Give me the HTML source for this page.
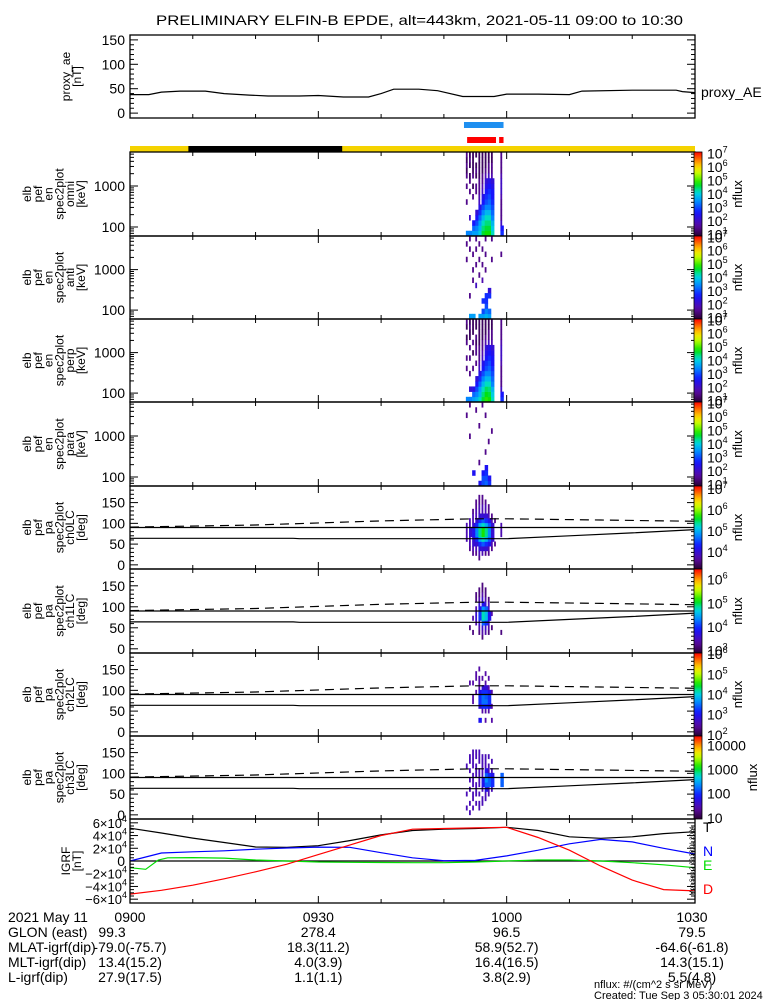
<!DOCTYPE html>
<html><head><meta charset="utf-8"><title>ELFIN-B EPDE</title>
<style>
html,body{margin:0;padding:0;background:#fff;}
svg{display:block;font-family:"Liberation Sans",sans-serif;}
</style></head>
<body>
<svg id="chart" width="775" height="1000" viewBox="0 0 775 1000" xmlns="http://www.w3.org/2000/svg">
<rect x="0" y="0" width="775" height="1000" fill="#fff"/>
<text x="156" y="25" font-size="14" textLength="527" lengthAdjust="spacingAndGlyphs">PRELIMINARY ELFIN-B EPDE, alt=443km, 2021-05-11 09:00 to 10:30</text>
<g id="layer"></g>
</svg>
<script>
// ---------- DATA ----------
const aeTimes = [0,3,5,8,12,15,19,22,27,30,34,38,40,42,46,49,53,58,60,65,70,72,80,87,88,90];
const aeValues = [38,38,43,45,45,40,37,35,35,36,33,33,40,49,49,46,34,34,39,39,38,45,47,47,44,42];

const igrfTimes = [0,5,10,15,20,25,30,35,40,45,50,55,60,65,70,75,80,85,90];
const igrfT = [51.5,44,36,29,22,21.6,24,32,41,48,50,51,53,48,38,35.7,38,43,46];
const igrfN = [0,12.5,14.5,16,18.5,20.5,21.8,21.5,13,5,0.5,1,8,17,27,34,30,20,11];
const igrfD = [-52,-46,-38,-28,-17,-5,10,25,40,50,51,52,53,37,17,-8,-30,-45,-47];
const igrfETimes = [0,2.5,4.5,6,10,15,20,25,30,35,40,45,50,55,60,65,70,75,80,85,90];
const igrfE = [-10.5,-13,1.5,5,5.3,4.5,1.6,0,-1.6,-2,-2.3,-2.6,-2.6,-1.5,0,1.6,1.6,0,-2.6,-6,-10.5];

const lcTimes = [0,26,27,60,70,80,90];
const lcValues = [64,64,63,63,70,77,85];
const alcTimes = [0,20,40,55,60,75,90];
const alcValues = [91,96,106,111,111,108,105];

const colTimes = [53.5,54.0,54.5,55.0,55.5,56.0,56.5,57.0,57.5,58.0,59.0];

const specOmni = [
[3.4,0,0,0,0,0,1.5,0,0,1.5,0,1.5,1.2,1.5,1.2,1.5],
[3.4,0,0,2,0,0,0,0,1.5,0,1.5,1.2,0,1.2,1.5,1.2],
[3.6,3.2,2.6,0,0,0,0,1.5,0,1.2,0,1.5,1.2,1.2,1.2,1.2],
[3.6,3.4,3,2.6,2.2,0,0,0,1.5,1.5,0,1.2,1.5,1.2,0,1.2],
[4,3.8,3.6,3.2,2.8,2.4,2,1.8,1.5,1.5,1.5,1.2,1.2,1.2,1.2,1.2],
[4.6,4.4,4.2,3.8,3.4,3,2.6,2.4,2,1.8,1.5,1.5,1.2,1.2,1.2,1.2],
[4.8,4.6,4.4,4.2,3.8,3.4,3,2.8,2.6,2.4,2.2,1.8,1.5,1.2,1.2,1.2],
[4.8,4.6,4.4,4.2,3.8,3.4,3.2,3,2.8,2.6,2.4,2,1.5,1.5,1.2,1.2],
[4.2,4,3.8,3.4,3.2,3,2.8,2.6,2.6,2.4,2.2,1.8,1.5,1.5,1.2,1.2],
[0,0,0,0,0,0,0,0,0,0,0,0,0,0,0,0],
[2.8,2.6,2,1.5,1.5,1.5,1.5,1.8,2,2,2,1.8,1.5,1.5,1.5,1.5]];
const specAnti = [
[0,0,0,0,0,0,0,0,0,0,0,1.5,0,0,1.5,0],
[3.6,0,0,0,1.5,0,0,0,0,0,0,0,0,1.5,0,1.5],
[3.6,0,0,0,0,0,0,1.5,0,1.5,0,0,1.5,0,0,0],
[0,0,0,0,0,0,2,0,0,0,1.5,0,0,1.5,0,1.5],
[3.6,0,0,0,0,0,0,0,1.5,0,0,1.5,0,0,1.5,0],
[3.6,3,0,2.8,0,0,0,1.8,0,0,1.5,0,0,1.5,0,0],
[3.8,3.4,3,2.8,2.8,0,0,0,0,1.5,0,0,1.5,0,0,1.5],
[3.6,3.2,0,0,2.8,2.2,0,0,0,0,0,0,0,0,0,0],
[0,0,0,0,0,0,0,0,0,0,0,1.5,0,0,0,1.5],
[0,0,0,0,0,0,0,0,0,0,0,0,0,0,0,0],
[0,0,0,0,0,0,0,0,0,0,0,0,1.5,0,0,0]];
const specPerp = [
[3.4,0,0,0,0,0,1.5,0,1.5,0,0,1.5,1.2,0,1.2,1.5],
[3.4,0,2.2,0,0,1.5,0,0,1.5,0,1.5,0,1.2,1.2,1.5,1.2],
[3.6,3.2,2.4,0,0,0,1.5,0,0,1.2,0,1.5,0,1.2,1.2,1.2],
[3.8,3.4,3,2.6,2.2,0,0,1.5,0,1.5,1.5,1.2,1.5,0,1.2,1.2],
[4.2,3.8,3.6,3.2,2.8,2.4,2,1.8,1.5,1.5,1.5,1.2,1.2,1.2,1.2,1.2],
[4.6,4.4,4.2,3.8,3.4,3,2.6,2.4,2,1.8,1.5,1.5,1.2,1.2,1.2,1.2],
[4.9,4.7,4.5,4.2,3.8,3.4,3,2.8,2.6,2.4,2.2,1.8,1.5,1.2,1.2,1.2],
[4.8,4.6,4.4,4.2,3.8,3.4,3.2,3,2.8,2.6,2.4,2,1.5,1.5,1.2,1.2],
[4.2,4,3.8,3.4,3.2,3,2.8,2.6,2.6,2.4,2.2,1.8,1.5,1.5,1.2,1.2],
[0,0,0,0,0,0,0,0,0,0,0,0,0,0,0,0],
[2.8,2.6,2,1.5,1.5,1.5,1.5,1.8,2,2,2,1.8,1.5,1.5,1.5,1.5]];
const specPara = [
[0,0,0,0,0,0,0,0,0,0,0,0,0,1.5,0,0],
[0,0,0,0,0,0,0,0,0,1.5,0,0,0,0,0,1.5],
[0,0,2.5,0,0,0,0,0,0,0,0,0,0,0,0,0],
[0,0,0,0,0,0,0,0,0,0,0,0,0,0,1.5,0],
[2.5,0,0,0,1.5,0,0,0,0,0,0,1.5,0,0,0,0],
[3,3,2.6,0,0,0,0,0,0,0,0,0,0,0,0,1.5],
[3.2,3,2.8,2.5,0,0,1.5,0,0,0,0,0,0,1.5,0,0],
[2.8,2.5,0,0,0,0,0,0,1.5,0,0,0,0,0,0,0],
[0,0,0,0,0,0,0,0,0,0,1.5,0,0,0,0,0],
[0,0,0,0,0,0,0,0,0,0,0,0,0,0,0,0],
[0,0,0,0,0,0,0,0,0,0,0,0,0,0,0,0]];
const paCh0 = [
[0,0,0,0,0,3.8,3.8,3.8,3.8,0,0,0,0,0,0,0],
[0,0,0,3.6,3.8,3.8,4,4,3.8,3.8,0,0,0,0,0,0],
[0,0,3.6,3.8,4,4,4.2,4.2,4,3.8,3.8,3.6,0,0,0,0],
[0,0,3.6,3.8,4,4.4,4.8,4.8,4.4,4,3.8,3.8,3.6,3.6,0,0],
[0,3.6,3.8,4,4.4,5,5.4,5.4,5,4.4,4,3.8,3.8,3.6,3.6,0],
[0,0,3.8,4,4.6,5.3,5.7,5.7,5.3,4.6,4,3.8,3.8,3.6,3.6,0],
[0,0,3.6,4,4.4,5,5.4,5.4,5,4.4,4,3.8,3.8,3.6,0,0],
[0,0,3.6,3.8,4.2,4.6,4.8,4.8,4.6,4.2,3.8,3.6,3.6,0,0,0],
[0,0,0,3.6,3.8,4,4,4,4,3.8,3.6,0,0,0,0,0],
[0,0,0,0,3.6,0,0,0,0,3.6,0,0,0,0,0,0],
[0,0,0,0,0,0,3.8,3.8,3.8,0,0,0,0,0,0,0]];
const paCh1 = [
[0,0,0,0,0,0,0,0,0,0,0,0,0,0,0,0],
[0,0,0,0,3.2,0,0,0,0,0,0,0,0,0,0,0],
[0,0,0,3.2,0,0,3.4,0,0,0,0,0,0,0,0,0],
[0,0,0,0,0,3.4,3.6,3.6,3.4,0,3.2,3.2,0,0,0,0],
[0,0,0,3.2,3.4,3.6,4,4,3.8,3.6,3.4,3.2,3.2,0,0,0],
[0,0,3.2,3.4,3.6,4.2,4.8,4.8,4.4,3.8,3.6,3.4,3.2,3.2,0,0],
[0,0,0,3.4,3.6,4,4.6,4.6,4.2,3.6,3.4,3.2,3.2,0,0,0],
[0,0,0,3.2,3.4,3.6,3.8,3.8,3.6,3.4,3.2,0,0,0,0,0],
[0,0,0,0,3.2,0,0,3.4,0,0,0,0,0,0,0,0],
[0,0,0,0,0,0,0,0,0,0,0,0,0,0,0,0],
[0,0,0,3.2,0,0,0,0,0,0,0,0,0,0,0,0]];
const paCh2 = [
[0,0,0,0,0,0,0,0,0,0,0,0,0,0,0,0],
[0,0,0,0,0,0,0,0,0,0,2.5,0,0,0,0,0],
[0,0,0,0,0,0,2.5,2.5,0,0,2.5,0,0,0,0,0],
[0,0,0,0,0,0,0,0,2.5,0,0,2.5,2.5,0,0,0],
[0,0,3,0,0,2.8,3.2,3.2,3,2.5,2.5,2.5,0,2.5,0,0],
[0,0,0,0,2.5,3.2,3.5,3.5,3.2,2.8,0,2.5,0,0,0,0],
[0,0,2.5,0,2.5,3.2,3.5,3.4,3.2,2.8,2.5,0,2.5,0,0,0],
[0,0,0,0,2.5,3,3.2,3.2,3,2.5,0,2.5,0,0,0,0],
[0,0,2.5,0,0,2.5,0,0,2.5,0,0,0,0,0,0,0],
[0,0,0,0,0,0,0,0,0,0,0,0,0,0,0,0],
[0,0,0,0,0,0,0,0,0,0,0,0,0,0,0,0]];
const paCh3 = [
[0,1.5,0,0,1.5,0,0,0,0,0,1.5,0,0,0,0,0],
[1.5,0,1.5,0,0,1.5,0,1.5,0,1.5,0,1.5,1.5,0,0,0],
[0,1.5,0,1.5,1.5,0,1.5,1.5,1.5,0,1.5,1.5,1.5,1.5,0,0],
[0,0,1.5,0,1.5,1.5,1.5,0,1.5,1.5,1.5,0,1.5,1.5,0,0],
[0,1.5,1.5,0,1.5,0,1.5,1.5,1.5,1.5,0,1.5,1.5,1.5,0,0],
[0,0,1.5,1.5,0,1.5,1.8,1.8,1.5,1.5,1.5,1.5,1.5,0,0,0],
[0,0,0,1.5,1.5,1.8,2.2,2.4,2.2,1.8,1.5,1.5,1.5,0,0,0],
[0,0,0,0,1.5,1.5,2.2,2.2,2,1.5,1.5,0,1.5,0,0,0],
[0,0,0,0,0,1.5,2,2,1.8,1.5,0,1.5,0,0,0,0],
[0,0,0,0,0,0,0,0,0,0,0,0,0,0,0,0],
[0,0,0,0,0,0,2.2,2.2,2.2,0,0,0,0,0,0,0]];

const timeLabels = ["0900","0930","1000","1030"];
const glonVals = ["99.3","278.4","96.5","79.5"];
const mlatVals = ["-79.0(-75.7)","18.3(11.2)","58.9(52.7)","-64.6(-61.8)"];
const mltVals = ["13.4(15.2)","4.0(3.9)","16.4(16.5)","14.3(15.1)"];
const lVals = ["27.9(17.5)","1.1(1.1)","3.8(2.9)","5.5(4.8)"];

// ---------- HELPERS ----------
const NS = "http://www.w3.org/2000/svg";
const layer = document.getElementById('layer');
const X0 = 130, X1 = 695, TMAX = 90;
function X(t){ return X0 + t*(X1-X0)/TMAX; }
function mk(tag, attrs, parent){
  const e = document.createElementNS(NS, tag);
  for (const k in attrs) e.setAttribute(k, attrs[k]);
  (parent||layer).appendChild(e); return e;
}
function txt(s, x, y, size, anchor, parent, fill){
  const t = mk('text', {x:x, y:y, 'font-size':size, 'text-anchor':anchor||'start', fill:fill||'#000'}, parent);
  t.textContent = s; return t;
}
const stops = [[0,[40,0,50]],[0.12,[90,10,160]],[0.28,[20,20,255]],[0.42,[0,150,255]],[0.52,[0,220,220]],[0.62,[0,225,0]],[0.74,[190,255,0]],[0.82,[255,225,0]],[0.9,[255,130,0]],[1,[255,0,0]]];
function cmap(f){
  f = Math.max(0, Math.min(1, f));
  for (let i=1;i<stops.length;i++){
    if (f <= stops[i][0]){
      const a=stops[i-1], b=stops[i], u=(f-a[0])/(b[0]-a[0]);
      const c=a[1].map((v,j)=>Math.round(v+(b[1][j]-v)*u));
      return 'rgb('+c.join(',')+')';
    }
  }
  return 'rgb(255,0,0)';
}
const defs = mk('defs', {});
const grad = mk('linearGradient', {id:'cbar', x1:0, y1:1, x2:0, y2:0}, defs);
for (let i=0;i<=20;i++){ mk('stop', {offset:(i/20), 'stop-color':cmap(i/20)}, grad); }

function xTicks(top, bot, g){
  for (let t=0;t<=90;t+=10){
    const len = (t%30===0)?7:4;
    mk('line', {x1:X(t), x2:X(t), y1:bot, y2:bot-len, stroke:'#000', 'stroke-width':1}, g);
    mk('line', {x1:X(t), x2:X(t), y1:top, y2:top+len, stroke:'#000', 'stroke-width':1}, g);
  }
}
function frame(top, bot, g){
  mk('rect', {x:X0, y:top, width:X1-X0, height:bot-top, fill:'none', stroke:'#000', 'stroke-width':1.3}, g);
}
function yTick(y, len, g){
  mk('line', {x1:X0, x2:X0+len, y1:y, y2:y, stroke:'#000', 'stroke-width':1}, g);
  mk('line', {x1:X1, x2:X1-len, y1:y, y2:y, stroke:'#000', 'stroke-width':1}, g);
}
function sideLabel(lines, top, bot, g){
  const cy = (top+bot)/2;
  lines.forEach((s,i)=>{
    const x = 31 + i*10.8;
    const t = mk('text', {x:0, y:0, 'font-size':12, 'text-anchor':'middle', transform:'translate('+x+','+cy+') rotate(-90)'}, g);
    t.textContent = s;
  });
}
function supLabel(base, exp, x, y, g){
  const t = mk('text', {x:x, y:y, 'font-size':14}, g);
  t.appendChild(document.createTextNode(base));
  const ts = mk('tspan', {dy:-6, 'font-size':9}, t); ts.textContent = exp;
  return t;
}
function colorbar(top, bot, cmin, cmax, labels, g, useSup){
  mk('rect', {x:694, y:top, width:8, height:bot-top, fill:'url(#cbar)', stroke:'#000', 'stroke-width':0.8}, g);
  labels.forEach(k=>{
    const y = bot - (k-cmin)/(cmax-cmin)*(bot-top);
    if (y < top-2 || y > bot+2) return;
    if (useSup) supLabel('10', String(k), 707, y+5, g);
    else txt(String(Math.pow(10,k)), 707, y+5, 14, 'start', g);
  });
  const t = mk('text', {x:0, y:0, 'font-size':13, 'text-anchor':'middle', transform:'translate('+(useSup?742:757)+','+((top+bot)/2)+') rotate(-90)'}, g);
  t.textContent = 'nflux';
}

// ---------- AE PANEL ----------
(function(){
  const g = mk('g', {});  
  const top=35, bot=118, vmin=-10, vmax=160;
  const Y = v => bot - (v-vmin)/(vmax-vmin)*(bot-top);
  frame(top, bot, g); xTicks(top, bot, g);
  for (let v=0; v<=150; v+=10) yTick(Y(v), v%50===0?8:4, g);
  [0,50,100,150].forEach(v=>txt(String(v), 125, Y(v)+5, 14, 'end', g));
  const pts = aeTimes.map((t,i)=>X(t).toFixed(1)+','+Y(aeValues[i]).toFixed(1)).join(' ');
  const pl = mk('polyline', {points:pts, fill:'none', stroke:'#000', 'stroke-width':1.2}, g);
   
  sideLabel(['proxy_ae','[nT]'], top, bot, g);
  g.querySelectorAll('text[transform]').forEach((t,i)=>t.setAttribute('transform','translate('+(70+i*11)+','+((top+bot)/2)+') rotate(-90)'));
  const lab = txt('proxy_AE', 701, 97, 14, 'start', g);
   
})();

// ---------- STATUS BARS ----------
(function(){
  const g = mk('g', {});  
  const b1 = mk('rect', {x:X(53.2), y:122, width:X(59.5)-X(53.2), height:6, fill:'#1e8ff0'}, g);
   
  const b2 = mk('rect', {x:X(53.7), y:137, width:X(58.3)-X(53.7), height:6, fill:'#ff0000'}, g);
   
  const b3 = mk('rect', {x:X(58.8), y:137, width:X(59.5)-X(58.8), height:6, fill:'#ff0000'}, g);
   
  const y1 = mk('rect', {x:X0, y:146, width:X1-X0, height:6, fill:'#f5d300'}, g);
   
  const e1 = mk('rect', {x:X(9.3), y:146, width:X(33.8)-X(9.3), height:6, fill:'#000'}, g);
   
})();

// ---------- SPECTROGRAM PANELS ----------
const panels = [
 {top:152, bot:236, kind:'en', data:specOmni, cmin:0.9, cmax:7.1, cl:[1,2,3,4,5,6,7], sup:true, lab:['elb','pef','en','spec2plot','omni','[keV]'], name:'omni-energy-spectrogram'},
 {top:236, bot:319, kind:'en', data:specAnti, cmin:0.9, cmax:7.1, cl:[1,2,3,4,5,6,7], sup:true, lab:['elb','pef','en','spec2plot','anti','[keV]'], name:'anti-energy-spectrogram'},
 {top:319, bot:402, kind:'en', data:specPerp, cmin:0.9, cmax:7.1, cl:[1,2,3,4,5,6,7], sup:true, lab:['elb','pef','en','spec2plot','perp','[keV]'], name:'perp-energy-spectrogram'},
 {top:402, bot:486, kind:'en', data:specPara, cmin:0.9, cmax:7.1, cl:[1,2,3,4,5,6,7], sup:true, lab:['elb','pef','en','spec2plot','para','[keV]'], name:'para-energy-spectrogram'},
 {top:486, bot:569, kind:'pa', data:paCh0, cmin:3.2, cmax:7.15, cl:[4,5,6,7], sup:true, lab:['elb','pef','pa','spec2plot','ch0LC','[deg]'], name:'ch0-pitch-angle-spectrogram'},
 {top:569, bot:653, kind:'pa', data:paCh1, cmin:2.9, cmax:6.45, cl:[3,4,5,6], sup:true, lab:['elb','pef','pa','spec2plot','ch1LC','[deg]'], name:'ch1-pitch-angle-spectrogram'},
 {top:653, bot:736, kind:'pa', data:paCh2, cmin:1.95, cmax:6.05, cl:[2,3,4,5,6], sup:true, lab:['elb','pef','pa','spec2plot','ch2LC','[deg]'], name:'ch2-pitch-angle-spectrogram'},
 {top:736, bot:819, kind:'pa', data:paCh3, cmin:0.95, cmax:4.4, cl:[1,2,3,4], sup:false, lab:['elb','pef','pa','spec2plot','ch3LC','[deg]'], name:'ch3-pitch-angle-spectrogram'}
];
panels.forEach(p=>{
  const g = mk('g', {});
  
  
  const H = p.bot - p.top;
  let yOf, nb = 16, edge;
  if (p.kind==='en'){
    const lmin=1.78, lmax=3.83;
    yOf = lg => p.bot - (lg-lmin)/(lmax-lmin)*H;
    edge = i => lmin + i*(lmax-lmin)/nb;
  } else {
    yOf = d => p.bot - (d+10)/200*H;
    edge = i => i*180/nb;
  }
  p.data.forEach((col, ci)=>{
    const x0 = X(colTimes[ci]), x1 = X(colTimes[ci]+0.5);
    col.forEach((v, bi)=>{
      if (!v) return;
      const f = (v-p.cmin)/(p.cmax-p.cmin);
      const ya = yOf(edge(bi+1)), yb = yOf(edge(bi));
      const w = f < 0.2 ? 1.8 : (x1-x0+0.3);
      const r = mk('rect', {x:x0.toFixed(2), y:ya.toFixed(2), width:w.toFixed(2), height:(yb-ya+0.3).toFixed(2), fill:cmap(f)}, g);
      
      
    });
  });
  if (p.kind==='en'){
    for (let k=1;k<=3;k++) for (let m=1;m<=9;m++){
      const lg = k + Math.log10(m);
      if (lg < 1.78 || lg > 3.83) continue;
      yTick(yOf(lg), m===1?8:4, g);
    }
    [[2,'100'],[3,'1000']].forEach(a=>txt(a[1], 125, yOf(a[0])+5, 14, 'end', g));
  } else {
    for (let d=-10; d<=190; d+=10) yTick(yOf(d), d%50===0?8:4, g);
    [0,50,100,150].forEach(d=>txt(String(d), 125, yOf(d)+5, 14, 'end', g));
    const lc = mk('polyline', {points:lcTimes.map((t,i)=>X(t).toFixed(1)+','+yOf(lcValues[i]).toFixed(1)).join(' '), fill:'none', stroke:'#000', 'stroke-width':1.2}, g);
     
    const l90 = mk('line', {x1:X0, x2:X1, y1:yOf(90), y2:yOf(90), stroke:'#000', 'stroke-width':1.2}, g);
     
    const alc = mk('polyline', {points:alcTimes.map((t,i)=>X(t).toFixed(1)+','+yOf(alcValues[i]).toFixed(1)).join(' '), fill:'none', stroke:'#000', 'stroke-width':1.2, 'stroke-dasharray':'9,6'}, g);
     
  }
  frame(p.top, p.bot, g); xTicks(p.top, p.bot, g);
  sideLabel(p.lab, p.top, p.bot, g);
  const cb = mk('g', {}, g);
   
  colorbar(p.top, p.bot, p.cmin, p.cmax, p.cl, cb, p.sup);
});

// ---------- IGRF PANEL ----------
(function(){
  const g = mk('g', {});  
  const top=819, bot=903, vmin=-66, vmax=66;
  const Y = v => bot - (v-vmin)/(vmax-vmin)*(bot-top);
  mk('line', {x1:X0, x2:X1, y1:Y(0), y2:Y(0), stroke:'#000', 'stroke-width':1.2}, g);
  const series = [[igrfTimes,igrfT,'#000','igrf-t-line'],[igrfTimes,igrfN,'#0000ff','igrf-n-line'],[igrfETimes,igrfE,'#00dd00','igrf-e-line'],[igrfTimes,igrfD,'#ff0000','igrf-d-line']];
  series.forEach(s=>{
    const pl = mk('polyline', {points:s[0].map((t,i)=>X(t).toFixed(1)+','+Y(s[1][i]).toFixed(1)).join(' '), fill:'none', stroke:s[2], 'stroke-width':1.2}, g);
     
  });
  frame(top, bot, g); xTicks(top, bot, g);
  for (let v=-60; v<=60; v+=5) yTick(Y(v), v%20===0?8:4, g);
  [60,40,20,-20,-40,-60].forEach(v=>{
    const t = mk('text', {x:127, y:Y(v)+5, 'font-size':13, 'text-anchor':'end'}, g);
    t.appendChild(document.createTextNode((v<0?'\u2212':'')+Math.abs(v)/10+'\u00d710'));
    const ts = mk('tspan', {dy:-6, 'font-size':9}, t); ts.textContent='4';
  });
  txt('0', 125, Y(0)+5, 14, 'end', g);
  [['IGRF',70],['[nT]',81]].forEach(a=>{
    const t = mk('text', {x:0,y:0,'font-size':12,'text-anchor':'middle',transform:'translate('+a[1]+','+((top+bot)/2)+') rotate(-90)'}, g);
    t.textContent = a[0];
  });
  [['T',827,'#000'],['N',851,'#0000ff'],['E',865,'#00dd00'],['D',889,'#ff0000']].forEach(a=>{
    const t = txt(a[0], 703, a[1]+5, 14, 'start', g, a[2]);
     
  });
  const st = mk('text', {x:0,y:0,'font-size':6,'text-anchor':'middle',transform:'translate(694,861) rotate(-90)'}, g);
  st.textContent = 'Mon Sep  2 22:30:01 2024';
})();

// ---------- BOTTOM ANNOTATION ----------
(function(){
  const g = mk('g', {});  
  const rows = [['2021 May 11',timeLabels],['GLON (east)',glonVals],['MLAT-igrf(dip)',mlatVals],['MLT-igrf(dip)',mltVals],['L-igrf(dip)',lVals]];
  const cx = [0,30,60,90];
  rows.forEach((r,i)=>{
    const y = 922 + i*15;
    txt(r[0], 8, y, 14, 'start', g);
    r[1].forEach((v,j)=>{
      let x = X(cx[j]);
      if (j===0 && i===1) x = 112;
      if (j===3) x = 692;
      txt(v, x, y, 14, 'middle', g);
    });
  });
  txt('nflux: #/(cm^2 s sr MeV)', 594, 988, 11, 'start', g);
  txt('Created: Tue Sep  3 05:30:01 2024', 594, 999, 11, 'start', g);
})();
</script>
</body></html>
